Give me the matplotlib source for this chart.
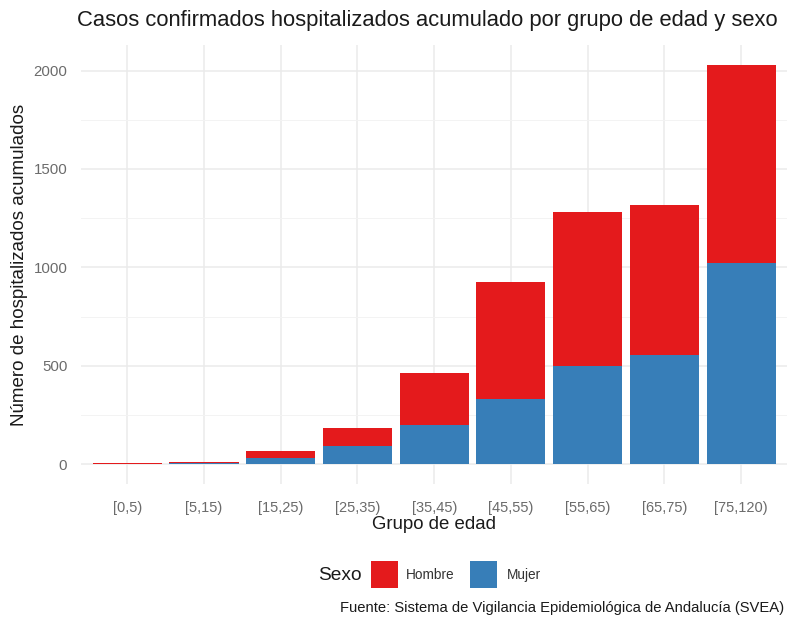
import matplotlib
matplotlib.use("Agg")
import matplotlib.pyplot as plt
from matplotlib.patches import Rectangle
import numpy as np

plt.rcParams['font.family'] = ['Liberation Sans', 'DejaVu Sans']

categories = ["[0,5)", "[5,15)", "[15,25)", "[25,35)", "[35,45)", "[45,55)", "[55,65)", "[65,75)", "[75,120)"]
mujer = [2, 4, 32, 93, 198, 329, 498, 554, 1021]
hombre = [3, 4, 36, 92, 263, 598, 785, 763, 1008]
yticks = [0, 500, 1000, 1500, 2000]

RED = "#E41A1C"
BLUE = "#377EB8"

fig = plt.figure(figsize=(7.96, 6.26), dpi=100)
ax = fig.add_axes([0.102, 0.227, 0.887, 0.701])

x = np.arange(1, len(categories) + 1)
ax.bar(x, mujer, width=0.9, color=BLUE, linewidth=0, zorder=3)
ax.bar(x, hombre, width=0.9, bottom=mujer, color=RED, linewidth=0, zorder=3)

ax.set_xlim(0.4, len(categories) + 0.6)
ax.set_ylim(-101, 2130)
ax.set_xticks(x)
ax.set_xticklabels(categories, color="#6b6b6b", fontsize=10.5)
ax.set_yticks(yticks)
ax.set_yticklabels([str(v) for v in yticks], color="#6b6b6b", fontsize=10.8)
ax.set_yticks([250, 750, 1250, 1750], minor=True)
ax.tick_params(axis='both', which='both', length=0)
ax.tick_params(axis='x', pad=12)
ax.tick_params(axis='y', pad=10)

ax.grid(True, which='major', color="#ebebeb", linewidth=1.1, zorder=0)
ax.grid(True, which='minor', axis='y', color="#f3f3f3", linewidth=0.7, zorder=0)
for s in ax.spines.values():
    s.set_visible(False)

ax.set_xlabel("Grupo de edad", fontsize=13.4, color="#1a1a1a", labelpad=1)
ax.set_ylabel("Número de hospitalizados acumulados", fontsize=13.5, color="#1a1a1a", labelpad=4)

fig.text(0.097, 0.967, "Casos confirmados hospitalizados acumulado por grupo de edad y sexo",
         fontsize=15.8, color="#1a1a1a", ha='left', va='center')

# legend
W, H = 796, 626
def fx(px):
    return px / W
def fy(py):
    return 1 - py / H

fig.text(fx(318), fy(575), "Sexo", fontsize=13.8, color="#1a1a1a", ha='left', va='center')
fig.patches.append(Rectangle((fx(371), fy(588)), 27 / W, 27 / H, transform=fig.transFigure,
                             facecolor=RED, edgecolor='none'))
fig.text(fx(406), fy(575), "Hombre", fontsize=9.8, color="#333333", ha='left', va='center')
fig.patches.append(Rectangle((fx(470), fy(588)), 27 / W, 27 / H, transform=fig.transFigure,
                             facecolor=BLUE, edgecolor='none'))
fig.text(fx(507), fy(575), "Mujer", fontsize=9.8, color="#333333", ha='left', va='center')

fig.text(fx(784), fy(608), "Fuente: Sistema de Vigilancia Epidemiológica de Andalucía (SVEA)",
         fontsize=10.6, color="#1a1a1a", ha='right', va='center')

fig.savefig("out.png", dpi=100)
